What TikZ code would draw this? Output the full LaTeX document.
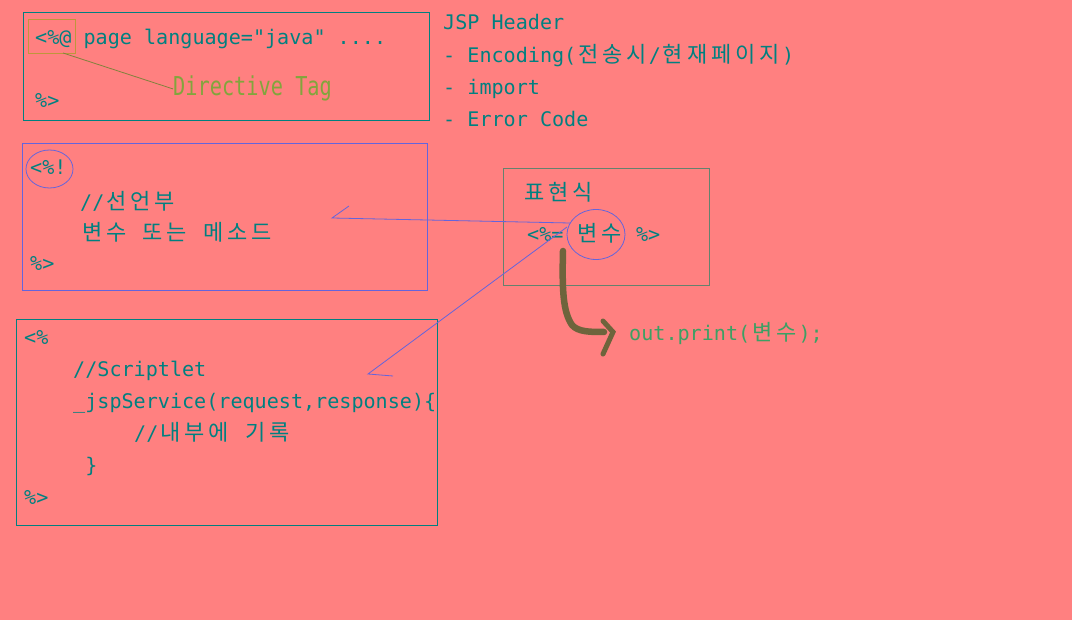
\documentclass[tikz,border=0pt]{standalone}
\usepackage{fontspec}
\usetikzlibrary{shapes.geometric}
\setmonofont{DejaVu Sans Mono}
\newfontfamily\krfont{Noto Sans CJK KR}
\newfontfamily\tagfont[FakeStretch=0.78]{DejaVu Sans Mono}
\definecolor{bgc}{RGB}{255,128,128}
\definecolor{txt}{RGB}{0,128,128}
\definecolor{lnc}{RGB}{100,100,220}
\definecolor{bx4}{RGB}{100,130,110}
\definecolor{tagc}{RGB}{130,165,60}
\definecolor{tagbox}{RGB}{190,150,60}
\definecolor{tagln}{RGB}{130,130,60}
\definecolor{outc}{RGB}{60,160,100}
\definecolor{arrc}{RGB}{110,100,60}
\newlength{\cellw}\setlength{\cellw}{24.2pt}
\makeatletter
\def\K#1{\K@x#1\relax}
\def\K@x#1{\ifx#1\relax\else\makebox[\cellw]{\krfont\fontsize{22}{22}\selectfont #1}\expandafter\K@x\fi}
\makeatother
\tikzset{
  code/.style={anchor=base west, inner sep=0pt, text=txt, font=\ttfamily\fontsize{20.1}{24}\selectfont},
  box/.style={draw, line width=1pt},
  conn/.style={draw=lnc, line width=0.8pt},
}
\begin{document}
\begin{tikzpicture}[x=1pt,y=-1pt]
\fill[bgc] (0,0) rectangle (1072,620);
\useasboundingbox (0,0) rectangle (1072,620);
% box 1
\node[box, draw=txt, minimum width=406pt, minimum height=108pt, anchor=north west, inner sep=0pt] (b1) at (23,12) {};
\node[code] (t11) at (35,45) {<\%@ page language="java" ....};
\node[code] (t12) at (35,108) {\%>};
\node[draw=tagbox, line width=1.3pt, anchor=north west, minimum width=47pt, minimum height=34pt, inner sep=0pt] (tb) at (28,19) {};
\node[anchor=base west, inner sep=0pt, text=tagc, font=\tagfont\fontsize{26}{28}\selectfont] (tag) at (173,96) {Directive Tag};
\draw[draw=tagln, line width=0.8pt] (63,53) -- (tag.west);
% header text
\node[code] (h1) at (443,30) {JSP Header};
\node[code] (h2) at (443,63) {- Encoding(\K{전송시}/\K{현재페이지})};
\node[code] (h3) at (443,95) {- import};
\node[code] (h4) at (443,127) {- Error Code};
% box 2
\node[box, draw=lnc, minimum width=405pt, minimum height=147pt, anchor=north west, inner sep=0pt] (b2) at (22,143) {};
\node[code] (t21) at (30,175) {<\%!};
\node[draw=lnc, line width=0.8pt, ellipse, minimum width=47pt, minimum height=38pt, inner sep=0pt] (e1) at (49.5,169) {};
\node[code] (t22) at (80,210) {//\K{선언부}};
\node[code] (t23) at (80,241) {\K{변수} \K{또는} \K{메소드}};
\node[code] (t24) at (30,271) {\%>};
% box 3
\node[box, draw=txt, minimum width=421pt, minimum height=206pt, anchor=north west, inner sep=0pt] (b3) at (16,319) {};
\node[code] (t31) at (24,345) {<\%};
\node[code] (t32) at (73,377) {//Scriptlet};
\node[code] (t33) at (73,409) {\_jspService(request,response)\{};
\node[code] (t34) at (134,441) {//\K{내부에} \K{기록}};
\node[code] (t35) at (73,473) {\ \}};
\node[code] (t36) at (24,504) {\%>};
% box 4
\node[box, draw=bx4, minimum width=206pt, minimum height=117pt, anchor=north west, inner sep=0pt] (b4) at (503,168) {};
\node[code] (t41) at (522,201) {\K{표현식}};
\node[code] (t42) at (527,242) {<\%= \K{변수} \%>};
\node[draw=lnc, line width=0.8pt, ellipse, minimum width=58pt, minimum height=50pt, inner sep=0pt] (e2) at (596,234.5) {};
% connectors
\coordinate (s1) at (570,223);
\coordinate (a1) at (332,218);
\coordinate (a1b) at (349,206);
\coordinate (s2) at (567,227);
\coordinate (a2) at (368,374);
\coordinate (a2b) at (393,376);
\draw[conn] (s1) -- (a1) -- (a1b);
\draw[conn] (s2) -- (a2) -- (a2b);
% thick arrow
\coordinate (p0) at (563,251);
\coordinate (p1) at (613,332);
\node[anchor=base west, inner sep=0pt, text=outc, font=\ttfamily\fontsize{20.1}{24}\selectfont] (out) at (629,341) {out.print(\K{변수});};
\draw[arrc, line width=6.5pt, line cap=round, line join=round]
  (p0) .. controls (562,290) and (563,312) .. (572,325)
  .. controls (578,332) and (590,332) .. (604,332);
\draw[arrc, line width=5pt, line cap=round, line join=miter] (603,321) -- (p1) -- (603,354);
\end{tikzpicture}
\end{document}
